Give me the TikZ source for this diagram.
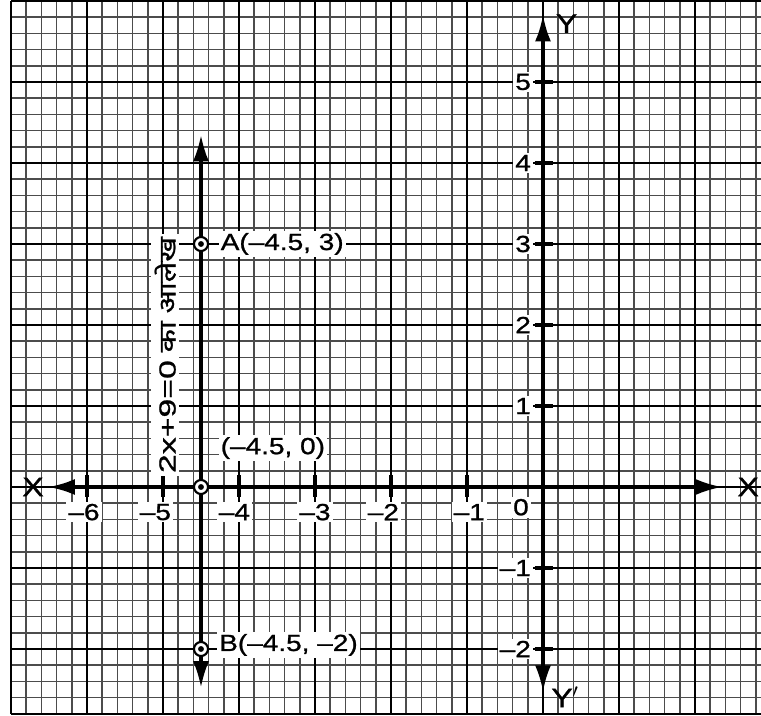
\documentclass[tikz,border=0pt]{standalone}
\usepackage{fontspec}
\setmainfont{Liberation Sans}[FakeStretch=1.2,FakeBold=1]
\newfontfamily\rotlatin{Liberation Sans}[FakeStretch=1.45,FakeBold=1]
\newfontfamily\hindifont[Script=Devanagari,FakeStretch=1.3,FakeBold=1]{Noto Sans}
\usetikzlibrary{arrows.meta}
\begin{document}
\begin{tikzpicture}[x=57pt,y=60.75pt,
  minorline/.style={black!70,line width=1.1pt},
  majorline/.style={black,line width=1.6pt},
  axisline/.style={line width=2.6pt},
  bothtips/.style={{Latex[length=20pt,width=12pt]}-{Latex[length=20pt,width=12pt]}},
  tickline/.style={line width=3pt},
  ptmark/.style={circle,draw,line width=1.6pt,fill=white,minimum size=10.5pt,inner sep=0pt},
  lbl/.style={fill=white,inner sep=1.5pt,font=\fontsize{17.5}{20}\selectfont},
  axlbl/.style={inner sep=1pt,font=\fontsize{20}{22}\selectfont}]
\useasboundingbox (-7.1447,-2.8148) rectangle (2.8684,6.0123);
\begin{scope}
\clip (-7.1447,-2.8148) rectangle (2.8684,6.0123);
% minor grid
\foreach \i in {-35,...,15} \draw[minorline] ({\i/5},-2.8) -- ({\i/5},6);
\foreach \j in {-14,...,30} \draw[minorline] (-7,{\j/5}) -- (3,{\j/5});
% major grid
\foreach \i in {-7,...,3} \draw[majorline] (\i,-2.8) -- (\i,6);
\foreach \j in {-2,...,6} \draw[majorline] (-7,\j) -- (3,\j);
\draw[majorline] (-7,-2.8) -- (3,-2.8);
\end{scope}
% axes
\coordinate (xl) at (-6.51,0);
\coordinate (xr) at (2.36,0);
\coordinate (yt) at (0,5.83);
\coordinate (yb) at (0,-2.53);
\draw[axisline,bothtips] (xl) -- (xr);
\draw[axisline,bothtips] (yb) -- (yt);
\foreach \i in {-6,...,-1} \draw[tickline] (\i,-0.12) -- (\i,0.15);
\foreach \j in {-2,-1,1,2,3,4,5} \draw[tickline] (-0.11,\j) -- (0.13,\j);
\node[axlbl] (xlbl) at (-6.71,0) {X};
\node[axlbl] (xrlbl) at (2.70,0) {X};
\node[axlbl] (ylbl) at (0.31,5.72) {Y};
\node[axlbl] (yblbl) at (0.29,-2.59) {Y$'$};
% tick labels
\node[lbl] (tm6) at (-6.04,-0.31) {–6};
\node[lbl] (tm5) at (-5.10,-0.31) {–5};
\node[lbl] (tm4) at (-4.06,-0.31) {–4};
\node[lbl] (tm3) at (-3.00,-0.31) {–3};
\node[lbl] (tm2) at (-2.10,-0.31) {–2};
\node[lbl] (tm1) at (-0.97,-0.31) {–1};
\node[lbl] (t0) at (-0.29,-0.25) {0};
\node[lbl,anchor=east] (ty5) at (-0.13,5) {5};
\node[lbl,anchor=east] (ty4) at (-0.13,4) {4};
\node[lbl,anchor=east] (ty3) at (-0.13,3) {3};
\node[lbl,anchor=east] (ty2) at (-0.13,2) {2};
\node[lbl,anchor=east] (ty1) at (-0.13,1) {1};
\node[lbl,anchor=east] (tym1) at (-0.13,-1) {–1};
\node[lbl,anchor=east] (tym2) at (-0.13,-2) {–2};
% line x = -4.5
\coordinate (lt) at (-4.5,4.35);
\coordinate (lb) at (-4.5,-2.48);
\draw[axisline,bothtips] (lb) -- (lt);
\foreach \p/\yy in {A/3,P/0,B/-2} {
  \node[ptmark] (\p) at (-4.5,\yy) {};
  \fill (\p.center) circle (2.2pt);
}
\node[lbl,anchor=west] (Alab) at (-4.27,3) {A(–4.5, 3)};
\node[lbl,anchor=west] (Plab) at (-4.27,0.48) {(–4.5, 0)};
\node[lbl,anchor=west] (Blab) at (-4.29,-1.95) {B(–4.5, –2)};
\node[fill=white,inner sep=2.5pt,rotate=90,font=\fontsize{17.5}{19}\selectfont] (hl) at (-4.97,1.63)
  {{\rotlatin 2x+9=0} {\hindifont का आलेख}};
\end{tikzpicture}
\end{document}
